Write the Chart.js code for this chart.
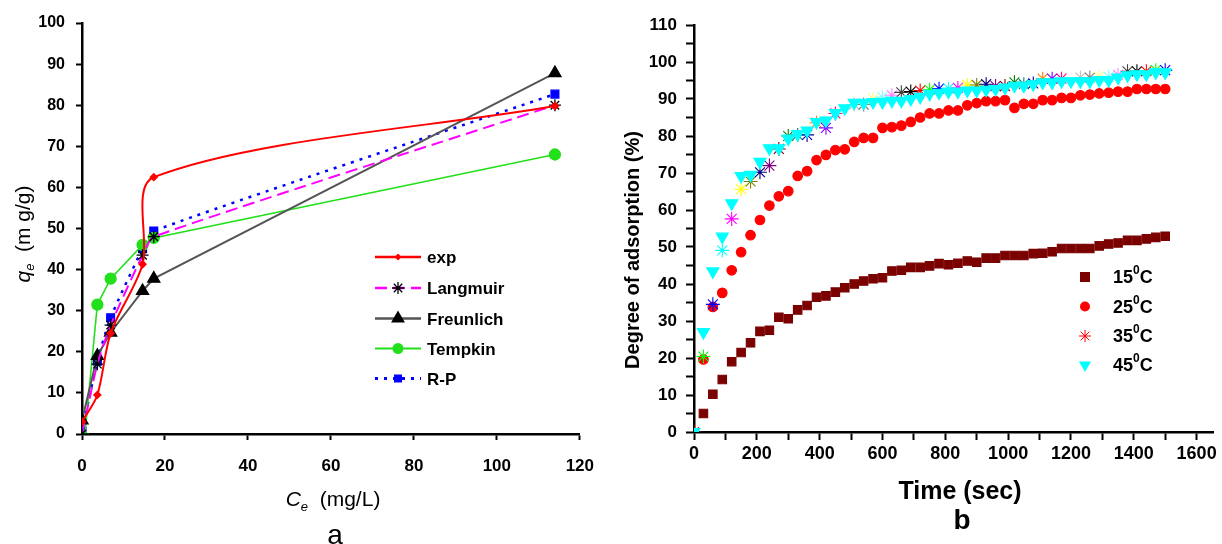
<!DOCTYPE html>
<html><head><meta charset="utf-8">
<script src="https://cdn.jsdelivr.net/npm/chart.js@4.4.1/dist/chart.umd.min.js"></script>
<style>
html,body{margin:0;padding:0;background:#fff;width:1222px;height:544px;overflow:hidden}
#wa{position:absolute;left:0;top:0;width:610px;height:544px}
#wb{position:absolute;left:610px;top:0;width:612px;height:544px}
</style></head><body>
<div id="wa"><canvas id="ca"></canvas></div>
<div id="wb"><canvas id="cb"></canvas></div>
<script>
// ---------- Chart a : isotherms ----------
const ceValues   = [0, 3.7, 6.9, 14.6, 17.3, 114];
const tempkinCe  = [0.6, 3.7, 6.9, 14.6, 17.3, 114];
const expQ        = [3, 9.5, 24.5, 41.3, 62.5, 79.8];
const langmuirQ   = [0, 17, 26.5, 43.5, 48, 80];
const freundlichQ = [3.3, 19, 24.7, 34.8, 37.8, 87.8];
const tempkinQ    = [-1, 31.5, 37.8, 46, 47.7, 68];
const rpQ         = [0.7, 17.7, 28.3, 45.1, 49.4, 82.7];
const isothermNames = ['exp', 'Langmuir', 'Freunlich', 'Tempkin', 'R-P'];
const ceTickStep = 20, ceMax = 120, qeTickStep = 10, qeMax = 100;

// ---------- Chart b : kinetics ----------
const timeSec = [0,30,60,90,120,150,180,210,240,270,300,330,360,390,420,450,480,510,540,570,600,
  630,660,690,720,750,780,810,840,870,900,930,960,990,1020,1050,1080,1110,1140,1170,1200,
  1230,1260,1290,1320,1350,1380,1410,1440,1470,1500];
const deg15 = [null,5,10.2,14.2,19,21.5,24.1,27.2,27.5,31,30.6,33,34.2,36.4,36.8,37.8,39,40,40.8,41.4,41.7,
  43.5,43.7,44.5,44.5,44.9,45.5,45.2,45.6,46.2,45.9,47,47,47.7,47.7,47.7,48.2,48.3,48.7,49.6,49.6,
  49.6,49.6,50.3,50.8,51.1,51.8,51.8,52.2,52.6,52.9];
const deg25 = [null,19.6,33.8,37.6,43.7,48.6,53.2,57.3,61.2,63.7,65.1,69.2,70.5,73.5,74.9,76.2,76.4,78.4,79.5,79.5,82.2,
  82.4,82.8,83.8,85,86.1,86.1,86.9,86.9,88.3,88.9,89.4,89.4,89.7,87.6,88.7,88.7,89.7,89.7,90.3,90.3,
  91,91.2,91.5,91.7,92,92,92.7,92.7,92.7,92.7];
const deg35 = [0,20.4,34.5,49.1,57.6,65.6,67.7,70.2,72,76.5,80,80.3,80.3,83.6,82.2,86.1,87.5,88.5,88.5,90,90.5,
  91,91.8,92,92.3,92.5,92.8,92.8,93,93.8,93.8,94,93.5,93.5,94.5,94,94.2,95.5,95.5,95.5,95,
  95.8,95.8,96,96,96.5,97.5,97.5,97.5,97.8,97.8];
const deg45 = [0,27,43.4,52.8,61.8,69.2,69.5,73,76.7,76.7,79.3,80.5,81.5,83.8,84.2,86.2,87.5,89,89,89.2,89.2,
  89.5,89.5,90,90.6,91.4,91.7,92,92,92.3,92.3,92.5,92.7,93.1,93.6,93.6,94,94.5,94.5,94.8,94.8,
  94.8,94.8,95.1,95.1,95.8,96.4,96.7,96.7,97.2,97.2];
const tempLabels = ['15', '25', '35', '45'];
const timeMajor = 200, timeMinor = 100, timeLastTick = 1600, timeAxisEnd = 1655, degMajor = 10, degMinor = 5, degMax = 110;

// Origin-like colour increment palette for the 35 °C asterisks
const originPalette = ['#000000','#ff0000','#00ff00','#0000ff','#00ffff','#ff00ff','#ffff00','#808000',
  '#000080','#800080','#800000','#008000','#008080','#0000a0','#ff8000','#8000ff','#ff0080','#ffffff',
  '#c0c0c0','#808080','#ffff80','#80ffff','#ff80ff','#404040'];

const FF = '"Liberation Sans", Arial, sans-serif';
const pts = (xs, ys) => xs.map((x, i) => ({x, y: ys[i]}));

function drawRich(ctx, parts, x, y, rot, align) {
  ctx.save();
  ctx.translate(x, y); ctx.rotate(rot || 0);
  let total = 0;
  parts.forEach(p => { ctx.font = p.font; p.w = ctx.measureText(p.t).width; total += p.w; });
  let cx = align === 'center' ? -total / 2 : 0;
  ctx.textAlign = 'left'; ctx.textBaseline = 'alphabetic'; ctx.fillStyle = '#000';
  parts.forEach(p => { ctx.font = p.font; ctx.fillText(p.t, cx, p.dy || 0); cx += p.w; });
  ctx.restore();
}

function marker(ctx, style, x, y, r, fill, stroke, lw) {
  ctx.save();
  ctx.fillStyle = fill; ctx.strokeStyle = stroke; ctx.lineWidth = lw || 1;
  ctx.beginPath();
  if (style === 'circle') { ctx.arc(x, y, r, 0, Math.PI * 2); ctx.fill(); }
  else if (style === 'rect') { ctx.rect(x - r, y - r, 2 * r, 2 * r); ctx.fill(); }
  else if (style === 'diamond') { ctx.moveTo(x, y - r); ctx.lineTo(x + r, y); ctx.lineTo(x, y + r); ctx.lineTo(x - r, y); ctx.closePath(); ctx.fill(); }
  else if (style === 'triUp') { ctx.moveTo(x, y - r); ctx.lineTo(x + r * 0.866, y + r / 2); ctx.lineTo(x - r * 0.866, y + r / 2); ctx.closePath(); ctx.fill(); }
  else if (style === 'triDown') { ctx.moveTo(x, y + r); ctx.lineTo(x + r * 0.866, y - r / 2); ctx.lineTo(x - r * 0.866, y - r / 2); ctx.closePath(); ctx.fill(); }
  else if (style === 'star') {
    for (let k = 0; k < 4; k++) { const a = k * Math.PI / 4; ctx.moveTo(x - r * Math.cos(a), y - r * Math.sin(a)); ctx.lineTo(x + r * Math.cos(a), y + r * Math.sin(a)); }
    ctx.stroke();
  }
  ctx.restore();
}

const axisCommon = (fontSize, pad, tickLen) => ({
  grid: { drawOnChartArea: false, drawTicks: true, tickLength: tickLen, tickColor: '#000', tickWidth: 2 },
  border: { display: true, color: '#000', width: 2.5 },
  ticks: { color: '#000', font: { family: FF, size: fontSize, weight: 'bold' }, padding: pad, autoSkip: false, maxRotation: 0, includeBounds: false }
});

// ---------------- Chart a ----------------
const styleA = [
  { color: '#ff0000', dash: [], width: 2, ps: 'rectRot', pr: 3.5, pf: '#ff0000', pb: '#ff0000', tension: 0.3, lg: 'diamond', lr: 3.5 },
  { color: '#ff00ff', dash: [12, 6], width: 2, ps: 'star', pr: 6, pf: '#000', pb: '#000', tension: 0.2, lg: 'star', lr: 6 },
  { color: '#555555', dash: [], width: 2, ps: 'triangle', pr: 7, pf: '#000', pb: '#000', tension: 0, lg: 'triUp', lr: 8 },
  { color: '#22e01a', dash: [], width: 1.6, ps: 'circle', pr: 5.5, pf: '#22e01a', pb: '#22e01a', tension: 0, lg: 'circle', lr: 5.5 },
  { color: '#0000ff', dash: [3, 6], width: 2.5, ps: 'rect', pr: 5.5, pf: '#0000ff', pb: '#0000ff', tension: 0.2, lg: 'rect', lr: 4 }
];
const seriesA = [pts(ceValues, expQ), pts(ceValues, langmuirQ), pts(ceValues, freundlichQ), pts(tempkinCe, tempkinQ), pts(ceValues, rpQ)];

const decoA = {
  id: 'decoA',
  afterDraw(chart) {
    const ctx = chart.ctx;
    const rows = [257, 288, 318.5, 348.5, 378.5];
    styleA.forEach((s, i) => {
      const y = rows[i];
      ctx.save();
      ctx.strokeStyle = s.color; ctx.lineWidth = s.width + 0.5; ctx.setLineDash(s.dash);
      ctx.beginPath(); ctx.moveTo(375, y); ctx.lineTo(421, y); ctx.stroke();
      ctx.restore();
      marker(ctx, s.lg, 398, y, s.lr, s.pf, s.pb, 1.3);
      drawRich(ctx, [{ t: isothermNames[i], font: 'bold 17px ' + FF }], 427, y + 6, 0, 'left');
    });
    drawRich(ctx, [
      { t: 'q', font: 'italic 21px ' + FF },
      { t: 'e', font: 'italic 13px ' + FF, dy: 4 },
      { t: '  (m g/g)', font: '21px ' + FF }
    ], 30, 234, -Math.PI / 2, 'center');
    drawRich(ctx, [
      { t: 'C', font: 'italic 21px ' + FF },
      { t: 'e', font: 'italic 13px ' + FF, dy: 5 },
      { t: '  (mg/L)', font: '21px ' + FF }
    ], 333, 506, 0, 'center');
    drawRich(ctx, [{ t: 'a', font: '28px ' + FF }], 335, 544, 0, 'center');
  }
};

new Chart(document.getElementById('ca'), {
  type: 'line',
  data: {
    datasets: seriesA.map((d, i) => ({
      label: isothermNames[i], data: d,
      borderColor: styleA[i].color, borderDash: styleA[i].dash, borderWidth: styleA[i].width,
      tension: styleA[i].tension, fill: false,
      pointStyle: styleA[i].ps, pointRadius: styleA[i].pr,
      pointBackgroundColor: styleA[i].pf, pointBorderColor: styleA[i].pb, pointBorderWidth: 1.3
    }))
  },
  options: {
    responsive: true, maintainAspectRatio: false, animation: false, devicePixelRatio: 1,
    layout: { padding: { top: 23, right: 22, left: 0, bottom: 0 } },
    plugins: { legend: { display: false }, tooltip: { enabled: false } },
    scales: {
      x: Object.assign(axisCommon(17, 16, 6), {
        type: 'linear', min: 0, max: ceMax,
        afterFit(s) { s.height = 110; }
      }),
      y: Object.assign(axisCommon(16, 11, 6), {
        type: 'linear', min: 0, max: qeMax,
        afterFit(s) { s.width = 82; }
      })
    }
  },
  plugins: [decoA]
});
const caChart = Chart.getChart('ca');
caChart.options.scales.x.ticks.stepSize = ceTickStep;
caChart.options.scales.y.ticks.stepSize = qeTickStep;
caChart.update();

// ---------------- Chart b ----------------
const styleB = [
  { ps: 'rect', pr: 6, fill: '#7b0000', border: '#7b0000', rot: 0, lg: 'rect', lr: 5 },
  { ps: 'circle', pr: 4.8, fill: '#ff0000', border: '#ff0000', rot: 0, lg: 'circle', lr: 5 },
  { ps: 'star', pr: 7, fill: '#ff0000', border: timeSec.map((t, i) => originPalette[(i + 1) % originPalette.length]), rot: 0, lg: 'star', lr: 6 },
  { ps: 'triangle', pr: 7, fill: '#00ffff', border: '#00ffff', rot: 180, lg: 'triDown', lr: 7 }
];
const seriesB = [deg15, deg25, deg35, deg45];

const decoB = {
  id: 'decoB',
  afterDraw(chart) {
    const ctx = chart.ctx;
    const rows = [277, 306.5, 336, 365];
    styleB.forEach((s, i) => {
      const y = rows[i];
      const stroke = i === 2 ? '#ff0000' : s.border;
      marker(ctx, s.lg, 475, y, s.lr, s.fill, stroke, 1);
      drawRich(ctx, [
        { t: tempLabels[i], font: 'bold 18px ' + FF },
        { t: '0', font: 'bold 12px ' + FF, dy: -9 },
        { t: 'C', font: 'bold 18px ' + FF }
      ], 503, y + 6, 0, 'left');
    });
    drawRich(ctx, [{ t: 'Degree of adsorption (%)', font: 'bold 20px ' + FF }], 29, 250, -Math.PI / 2, 'center');
    drawRich(ctx, [{ t: 'Time (sec)', font: 'bold 25px ' + FF }], 350, 499, 0, 'center');
    drawRich(ctx, [{ t: 'b', font: 'bold 28px ' + FF }], 352, 529, 0, 'center');
  }
};

new Chart(document.getElementById('cb'), {
  type: 'line',
  data: {
    datasets: seriesB.map((d, i) => ({
      label: tempLabels[i] + '°C', data: pts(timeSec, d), showLine: false,
      order: 3 - i,
      pointStyle: styleB[i].ps, pointRadius: styleB[i].pr, pointRotation: styleB[i].rot,
      pointBackgroundColor: styleB[i].fill, pointBorderColor: styleB[i].border, pointBorderWidth: 1.1,
      borderColor: styleB[i].fill, backgroundColor: styleB[i].fill
    }))
  },
  options: {
    responsive: true, maintainAspectRatio: false, animation: false, devicePixelRatio: 1,
    layout: { padding: { top: 25, right: 0, left: 0, bottom: 0 } },
    plugins: { legend: { display: false }, tooltip: { enabled: false } },
    scales: {
      x: Object.assign(axisCommon(18, 3, 8), {
        type: 'linear', min: 0, max: timeAxisEnd,
        afterBuildTicks(s) { s.ticks = s.ticks.filter(t => t.value % timeMinor === 0 && t.value <= timeLastTick); },
        afterFit(s) { s.height = 112; }
      }),
      y: Object.assign(axisCommon(17, 9, 8), {
        type: 'linear', min: 0, max: degMax,
        afterFit(s) { s.width = 84; }
      })
    }
  },
  plugins: [decoB]
});
const cbChart = Chart.getChart('cb');
cbChart.options.scales.x.ticks.stepSize = timeMinor;
cbChart.options.scales.x.ticks.callback = v => (v % timeMajor === 0 ? String(v) : '');
cbChart.options.scales.y.ticks.stepSize = degMinor;
cbChart.options.scales.y.ticks.callback = v => (v % degMajor === 0 ? String(v) : '');
cbChart.update();
</script>
</body></html>
